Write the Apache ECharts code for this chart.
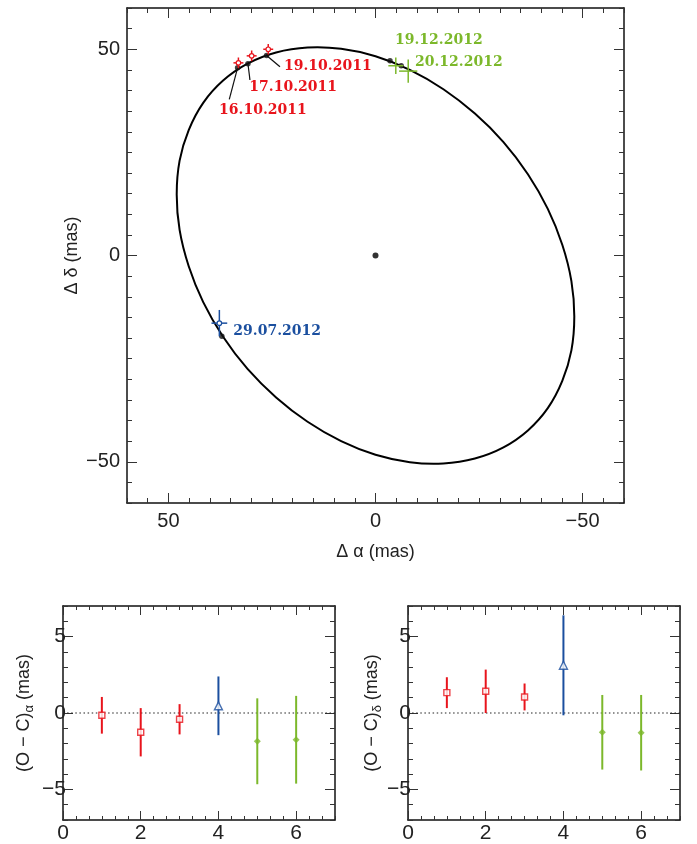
<!DOCTYPE html>
<html>
<head>
<meta charset="utf-8">
<script src="https://cdn.jsdelivr.net/npm/echarts@6/dist/echarts.min.js"></script>
<style>
  html, body { margin: 0; padding: 0; background: #fff; }
  #chart { width: 697px; height: 844px; }
</style>
</head>
<body>
<div id="chart"></div>
<script>
// ---- Relative orbit of the companion (Δα, Δδ in mas), sampled every 10° along the ellipse ----
const orbitRA  = [48.0, 47.3, 45.1, 41.6, 36.8, 30.9, 24.0, 16.4, 8.3, 0.0, -8.3, -16.4,
                  -24.0, -30.9, -36.8, -41.6, -45.1, -47.3, -48.0, -47.3, -45.1, -41.6, -36.8, -30.9,
                  -24.0, -16.4, -8.3, 0.0, 8.3, 16.4, 24.0, 30.9, 36.8, 41.6, 45.1, 47.3];
const orbitDec = [14.8, 23.0, 30.4, 37.0, 42.4, 46.5, 49.2, 50.4, 50.1, 48.3, 45.0, 40.3,
                  34.4, 27.5, 19.7, 11.3, 2.6, -6.2, -14.8, -23.0, -30.4, -37.0, -42.4, -46.5,
                  -49.2, -50.4, -50.1, -48.3, -45.0, -40.3, -34.4, -27.5, -19.7, -11.3, -2.6, 6.2];
const primaryPos = [0, 0];

// ---- Observation epochs ----
const epochLabels = ['16.10.2011', '17.10.2011', '19.10.2011', '29.07.2012', '19.12.2012', '20.12.2012'];
const epochGroup  = [0, 0, 0, 1, 2, 2];           // 0: Oct 2011, 1: Jul 2012, 2: Dec 2012

// measured positions and their errors (mas)
const obsRA     = [33.1, 29.9, 25.9, 37.7, -4.9, -7.9];
const obsDec    = [46.7, 48.4, 50.0, -16.4, 46.0, 44.7];
const obsErrRA  = [1.2, 1.2, 1.2, 1.9, 1.8, 2.2];
const obsErrDec = [1.3, 1.3, 1.3, 3.2, 2.0, 2.8];

// orbit-model positions at the same epochs (mas)
const modelRA  = [33.3, 30.8, 26.3, 37.1, -3.5, -6.2];
const modelDec = [45.5, 46.5, 48.5, -19.6, 47.2, 46.0];

// ---- Residuals O − C per epoch (mas) ----
const residIndex  = [1, 2, 3, 4, 5, 6];
const residRA     = [-0.15, -1.26, -0.41, 0.47, -1.85, -1.75];
const residRAErr  = [1.20, 1.58, 0.99, 1.92, 2.81, 2.87];
const residDec    = [1.33, 1.42, 1.05, 3.12, -1.26, -1.29];
const residDecErr = [1.01, 1.42, 0.88, 3.27, 2.44, 2.47];

// ---- Tick values ----
const mainTicks   = [-50, 0, 50];
const residXTicks = [0, 2, 4, 6];
const residYTicks = [-5, 0, 5];

// ---- Styling ----
const groupColor  = ['#e8141c', '#1b4f9f', '#7cb82b'];
const groupSymbol = ['rect', 'triangle', 'diamond'];
const groupFilled = [false, false, true];
const groupSize   = [6, 8, 7];
const SANS  = '"Liberation Sans", Arial, Helvetica, sans-serif';
const SERIF = '"DejaVu Serif", serif';
const AX = '#111';
const TICK = '#333';

// label placement relative to the model point: leader-line end and text anchor (px)
const labelLayout = [
  { line: [-8.3, 31.5], text: [-18.5, 42.5] },
  { line: [2.0, 16.3],  text: [1.4, 23.8] },
  { line: [13.4, 11.3], text: [17.4, 10.5] },
  { line: null,         text: [11.5, -4.5] },
  { line: null,         text: [5.0, -20.0] },
  { line: null,         text: [13.8, -3.5] }
];

const minus = v => (v < 0 ? '\u2212' + Math.abs(v) : String(v));
const isOneOf = (v, list) => list.some(m => Math.abs(m - v) < 1e-6);

// Four axes per dimension make a closed box with inward ticks on every side:
// minor ticks on the drawn axis line, long ticks at the labelled values, mirrored on the far side.
function boxAxes(dim, gridIndex, min, max, step, majors, cfg) {
  const sides = dim === 'x' ? ['bottom', 'top'] : ['left', 'right'];
  const base = { type: 'value', gridIndex, min, max, inverse: !!cfg.inverse, splitLine: { show: false } };
  const minorAx = (position, labelled) => Object.assign({}, base, {
    position,
    interval: step,
    axisLine: { show: true, onZero: false, lineStyle: { color: AX, width: 1.5 } },
    axisTick: { show: true, inside: true, length: cfg.minorLen, lineStyle: { color: TICK, width: 1 } },
    axisLabel: labelled ? {
      show: true, margin: cfg.labelMargin, fontSize: cfg.labelSize, fontFamily: SANS, color: '#222',
      formatter: v => (isOneOf(v, majors) ? minus(Math.round(v)) : '')
    } : { show: false },
    name: labelled ? cfg.name : '',
    nameLocation: 'middle',
    nameGap: cfg.nameGap,
    nameMoveOverlap: false,
    nameRotate: dim === 'y' ? 90 : 0,
    nameTextStyle: cfg.nameStyle
  });
  const majorAx = position => Object.assign({}, base, {
    position,
    interval: step,
    axisLine: { show: false, onZero: false },
    axisTick: { show: true, inside: true, length: cfg.majorLen, customValues: majors, lineStyle: { color: TICK, width: 1 } },
    axisLabel: { show: false }
  });
  return [minorAx(sides[0], true), majorAx(sides[0]), minorAx(sides[1], false), majorAx(sides[1])];
}

const axisNameStyle = (rich) => ({
  fontSize: 18, fontFamily: SANS, color: '#222',
  rich: rich ? {
    n: { fontSize: 18, fontFamily: SANS, color: '#222', lineHeight: 24 },
    s: { fontSize: 13, fontFamily: SANS, color: '#222', lineHeight: 13, verticalAlign: 'bottom' }
  } : undefined
});

const grids = [
  { left: 127, top: 8,   width: 497, height: 495 },
  { left: 63,  top: 606, width: 272, height: 217 },
  { left: 408, top: 606, width: 272, height: 217 }
];

const xAxes = [].concat(
  boxAxes('x', 0, -60, 60, 5, mainTicks, {
    inverse: true, minorLen: 5, majorLen: 10, labelMargin: 8, labelSize: 20,
    name: '\u0394 \u03b1 (mas)', nameGap: 40, nameStyle: axisNameStyle(false)
  }),
  boxAxes('x', 1, 0, 7, 1 / 3, residXTicks, {
    minorLen: 4, majorLen: 9, labelMargin: 3, labelSize: 21, name: '', nameGap: 0, nameStyle: {}
  }),
  boxAxes('x', 2, 0, 7, 1 / 3, residXTicks, {
    minorLen: 4, majorLen: 9, labelMargin: 3, labelSize: 21, name: '', nameGap: 0, nameStyle: {}
  })
);
const yAxes = [].concat(
  boxAxes('y', 0, -60, 60, 5, mainTicks, {
    minorLen: 5, majorLen: 10, labelMargin: 7, labelSize: 20,
    name: '\u0394 \u03b4 (mas)', nameGap: 46, nameStyle: axisNameStyle(false)
  }),
  boxAxes('y', 1, -7, 7, 1, residYTicks, {
    minorLen: 5, majorLen: 10, labelMargin: -3, labelSize: 21,
    name: '{n|(O \u2212 C)}{s|\u03b1}{n| (mas)}', nameGap: 27, nameStyle: axisNameStyle(true)
  }),
  boxAxes('y', 2, -7, 7, 1, residYTicks, {
    minorLen: 5, majorLen: 10, labelMargin: -3, labelSize: 21,
    name: '{n|(O \u2212 C)}{s|\u03b4}{n| (mas)}', nameGap: 24, nameStyle: axisNameStyle(true)
  })
);

// ---- Series data built from the arrays ----
const orbitData = orbitRA.map((x, i) => [x, orbitDec[i]]);
const modelData = modelRA.map((x, i) => [x, modelDec[i]]);
const obsData   = obsRA.map((x, i) => [x, obsDec[i], obsErrRA[i], obsErrDec[i]]);
const obsMarkerData = obsRA.map((x, i) => ({
  value: [x, obsDec[i]],
  itemStyle: { color: '#fff', borderColor: groupColor[epochGroup[i]], borderWidth: 1.2,
               opacity: epochGroup[i] === 2 ? 0 : 1 }
}));

function residSeries(gridAx, values, errors) {
  const bars = residIndex.map((n, i) => [n, values[i], errors[i]]);
  const markers = residIndex.map((n, i) => {
    const g = epochGroup[i];
    return {
      value: [n, values[i]],
      symbol: groupSymbol[g],
      symbolSize: groupSize[g],
      itemStyle: groupFilled[g]
        ? { color: groupColor[g] }
        : { color: '#fff', borderColor: groupColor[g], borderWidth: 1.4 }
    };
  });
  return [
    {
      type: 'line', xAxisIndex: gridAx, yAxisIndex: gridAx, silent: true, symbol: 'none',
      data: [[0, 0], [7, 0]],
      lineStyle: { color: '#222', width: 1.2, type: [1.5, 2.6] }, z: 1
    },
    {
      type: 'custom', xAxisIndex: gridAx, yAxisIndex: gridAx, silent: true,
      data: bars, encode: { x: 0, y: 1 }, z: 2,
      renderItem: (params, api) => {
        const x = api.value(0), y = api.value(1), e = api.value(2);
        const top = api.coord([x, y + e]), bot = api.coord([x, y - e]);
        return {
          type: 'line',
          shape: { x1: top[0], y1: top[1], x2: bot[0], y2: bot[1] },
          style: { stroke: groupColor[epochGroup[params.dataIndex]], lineWidth: 2 }
        };
      }
    },
    {
      type: 'scatter', xAxisIndex: gridAx, yAxisIndex: gridAx, silent: true,
      data: markers, z: 3
    }
  ];
}

const series = [
  // orbit: one closed smooth curve through the sampled points
  {
    type: 'custom', xAxisIndex: 0, yAxisIndex: 0, silent: true, z: 2,
    data: orbitData, encode: { x: 0, y: 1 },
    renderItem: (params, api) => {
      if (params.dataIndex !== 0) return null;
      const pts = orbitData.map(d => api.coord(d));
      return {
        type: 'polygon',
        shape: { points: pts, smooth: 0.35 },
        style: { fill: null, stroke: '#000', lineWidth: 2 }
      };
    }
  },
  // primary
  {
    type: 'scatter', xAxisIndex: 0, yAxisIndex: 0, silent: true,
    data: [primaryPos], symbolSize: 6, itemStyle: { color: '#000' }, z: 3
  },
  // leader lines and epoch labels
  {
    type: 'custom', xAxisIndex: 0, yAxisIndex: 0, silent: true, z: 4,
    data: modelData, encode: { x: 0, y: 1 },
    renderItem: (params, api) => {
      const i = params.dataIndex;
      const p = api.coord([api.value(0), api.value(1)]);
      const lay = labelLayout[i];
      const color = groupColor[epochGroup[i]];
      const children = [];
      if (lay.line) {
        children.push({
          type: 'line',
          shape: { x1: p[0], y1: p[1], x2: p[0] + lay.line[0], y2: p[1] + lay.line[1] },
          style: { stroke: '#111', lineWidth: 1.2 }
        });
      }
      children.push({
        type: 'text',
        x: p[0] + lay.text[0], y: p[1] + lay.text[1],
        style: {
          text: epochLabels[i], fill: color, fontFamily: SERIF, fontWeight: 'bold',
          fontSize: 14, align: 'left', verticalAlign: 'middle'
        }
      });
      return { type: 'group', children };
    }
  },
  // model positions
  {
    type: 'scatter', xAxisIndex: 0, yAxisIndex: 0, silent: true,
    data: modelData, symbolSize: 5.5, itemStyle: { color: '#111' }, z: 5
  },
  // measured positions with error crosses
  {
    type: 'custom', xAxisIndex: 0, yAxisIndex: 0, silent: true, z: 6,
    data: obsData, encode: { x: 0, y: 1 },
    renderItem: (params, api) => {
      const x = api.value(0), y = api.value(1), ex = api.value(2), ey = api.value(3);
      const l = api.coord([x + ex, y]), r = api.coord([x - ex, y]);
      const t = api.coord([x, y + ey]), b = api.coord([x, y - ey]);
      const color = groupColor[epochGroup[params.dataIndex]];
      return {
        type: 'group',
        children: [
          { type: 'line', shape: { x1: l[0], y1: l[1], x2: r[0], y2: r[1] }, style: { stroke: color, lineWidth: 1.5 } },
          { type: 'line', shape: { x1: t[0], y1: t[1], x2: b[0], y2: b[1] }, style: { stroke: color, lineWidth: 1.5 } }
        ]
      };
    }
  },
  {
    type: 'scatter', xAxisIndex: 0, yAxisIndex: 0, silent: true,
    data: obsMarkerData, symbol: 'circle', symbolSize: 4.5, z: 7
  }
].concat(
  residSeries(4, residRA, residRAErr),
  residSeries(8, residDec, residDecErr)
);

const chart = echarts.init(document.getElementById('chart'), null, { renderer: 'canvas' });
chart.setOption({
  animation: false,
  backgroundColor: '#fff',
  grid: grids,
  xAxis: xAxes,
  yAxis: yAxes,
  series
});
</script>
</body>
</html>
